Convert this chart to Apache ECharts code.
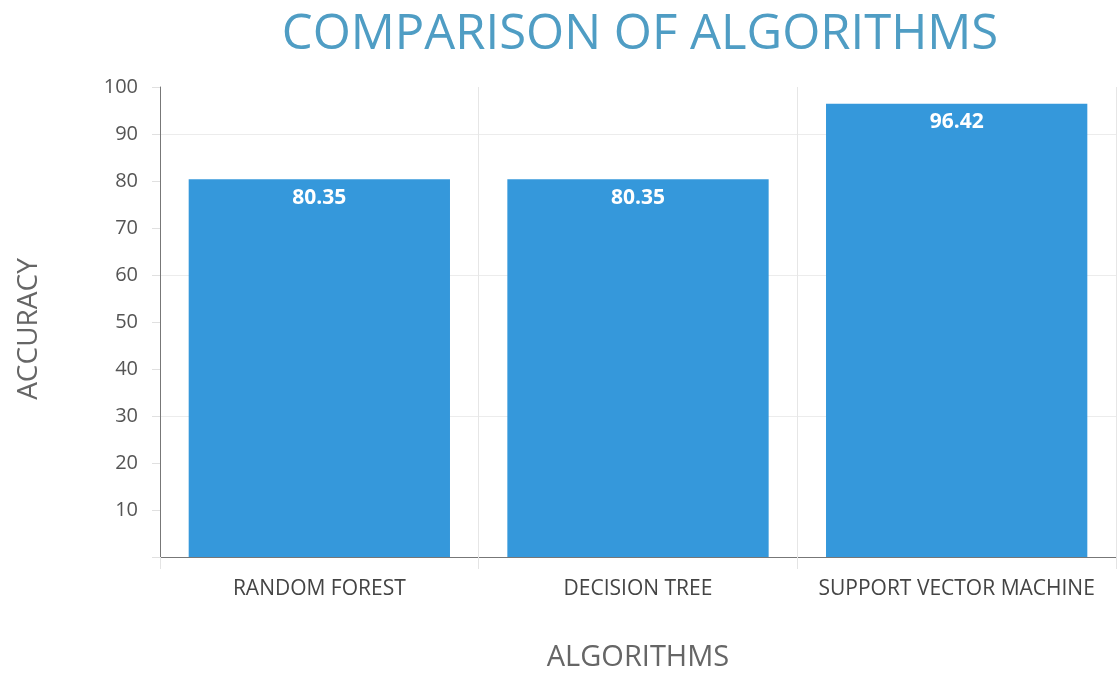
<!DOCTYPE html>
<html><head><meta charset="utf-8">
<script src="https://cdn.jsdelivr.net/npm/echarts@6/dist/echarts.min.js"></script>
<style>html,body{margin:0;padding:0;background:#fff}#c{width:1118px;height:675px}</style>
</head><body><div id="c"></div>
<script>
const categories = ['RANDOM FOREST', 'DECISION TREE', 'SUPPORT VECTOR MACHINE'];
const accuracy = [80.35, 80.35, 96.42];
const yTicks = [10, 20, 30, 40, 50, 60, 70, 80, 90, 100];

const chart = echarts.init(document.getElementById('c'));
chart.setOption({
  animation: false,
  backgroundColor: '#ffffff',
  title: {
    text: 'COMPARISON OF ALGORITHMS',
    left: 635, top: 6, textAlign: 'center',
    textStyle: { fontFamily: 'Open Sans', fontWeight: 'normal', fontSize: 49, color: '#4f9dc4' }
  },
  grid: { left: 160, right: 2, top: 87, bottom: 118, containLabel: false, outerBoundsMode: 'none' },
  xAxis: {
    type: 'category', data: categories,
    name: 'ALGORITHMS', nameLocation: 'middle', nameGap: 86,
    nameTextStyle: { fontFamily: 'Open Sans', fontSize: 29, color: '#666' },
    axisLine: { lineStyle: { color: '#777' } },
    axisTick: { show: true, length: 12, lineStyle: { color: '#e4e4e4' } },
    axisLabel: { interval: 0, hideOverlap: false, fontFamily: 'Open Sans', fontSize: 21, color: '#444', margin: 22 },
    splitLine: { show: true, lineStyle: { color: '#e6e6e6' } }
  },
  yAxis: [{
    type: 'value', min: 0, max: 100, interval: 10,
    name: 'ACCURACY', nameLocation: 'middle', nameGap: 117,
    nameTextStyle: { fontFamily: 'Open Sans', fontSize: 28, color: '#666', padding: [0, 14, 0, 0] },
    axisLine: { show: true, lineStyle: { color: '#777' } },
    axisTick: { show: true, length: 8, lineStyle: { color: '#e0e0e0' } },
    axisLabel: {
      fontFamily: 'Open Sans', fontSize: 20, color: '#555', margin: 22,
      formatter: v => yTicks.includes(v) ? String(v) : ''
    },
    splitLine: { show: false }
  }, {
    type: 'value', min: 0, max: 100, interval: 30, position: 'left',
    axisLine: { show: false }, axisTick: { show: false }, axisLabel: { show: false },
    splitLine: { show: true, showMinLine: false, showMaxLine: false, lineStyle: { color: '#ececec' } }
  }],
  series: [{
    type: 'bar', data: accuracy, barWidth: '82%', yAxisIndex: 0,
    itemStyle: { color: '#3598db' },
    label: {
      show: true, position: 'insideTop', distance: 8,
      fontFamily: 'Open Sans', fontWeight: 'bold', fontSize: 21, color: '#fff',
      formatter: p => p.value.toFixed(2)
    }
  }]
});
</script></body></html>
